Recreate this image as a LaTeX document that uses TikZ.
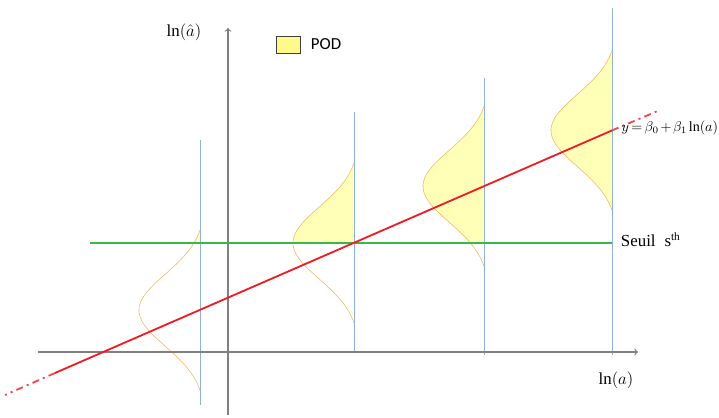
\documentclass[tikz,border=0pt]{standalone}
\usepackage{fontspec}
\setmainfont{Liberation Serif}
\newfontfamily\podfont{Carlito}
\definecolor{seuilgreen}{HTML}{3DB54A}
\definecolor{droitered}{HTML}{EE1C25}
\definecolor{courbeorange}{HTML}{F5B564}
\definecolor{podyellow}{HTML}{FFFFB8}
\definecolor{liblue}{HTML}{8FB0D8}
\definecolor{axegray}{HTML}{808080}
\begin{document}
\begin{tikzpicture}[x=1cm,y=1cm]
  \useasboundingbox (0,0) rectangle (17.975,10.45);
  % zones POD (au-dessus du seuil)
  \foreach \xc/\yc in {5/2.695,8.85/4.375,12.1/5.793,15.3/7.189}{
    \begin{scope}
      \clip (\xc-2,4.375) rectangle (\xc,10.45);
      \fill[podyellow,domain=-2:2,samples=80]
        plot ({\xc-1.525*(exp(-\x*\x/1.62)-0.0847)/0.9153},{\yc+\x}) -- cycle;
    \end{scope}
  }
  \draw[liblue] (5,0.325) -- (5,6.95);
  \draw[liblue] (8.85,1.65) -- (8.85,7.65);
  \draw[liblue] (12.1,1.575) -- (12.1,8.5);
  \draw[liblue] (15.3,1.575) -- (15.3,10.25);
  % densites
  \foreach \xc/\yc in {5/2.695,8.85/4.375,12.1/5.793,15.3/7.189}
    \draw[courbeorange,domain=-2:2,samples=80]
      plot ({\xc-1.525*(exp(-\x*\x/1.62)-0.0847)/0.9153},{\yc+\x});
  % axes
  \coordinate (xdeb) at (0.95,1.65);
  \coordinate (xfin) at (15.95,1.65);
  \coordinate (ydeb) at (5.7,0.075);
  \coordinate (yfin) at (5.7,9.75);
  \draw[axegray,line width=0.8pt,->] (xdeb) -- (xfin);
  \draw[axegray,line width=0.8pt,->] (ydeb) -- (yfin);
  \node[font=\large] (lna) at (15.4,0.95) {$\ln(a)$};
  \node[font=\large] (lnahat) at (4.6,9.65) {$\ln(\hat{a})$};
  % seuil
  \coordinate (sdeb) at (2.25,4.375);
  \coordinate (sfin) at (15.3,4.375);
  \draw[seuilgreen,line width=1.3pt] (sdeb) -- (sfin);
  \node[right,font=\large] (seuil) at (15.4,4.45) {Seuil\; s\textsuperscript{th}};
  % droite de regression
  \coordinate (rbas) at (0.125,0.575);
  \coordinate (rdeb) at (1.375,1.125);
  \coordinate (rfin) at (15.3,7.189);
  \coordinate (rhaut) at (16.5,7.7);
  \draw[droitered,line width=1.3pt] (rdeb) -- (rfin);
  \draw[droitered!80,line width=1.3pt,dash pattern=on 5pt off 3pt on 1.5pt off 3pt] (rdeb) -- (rbas);
  \draw[droitered!80,line width=1.3pt,dash pattern=on 5pt off 3pt on 1.5pt off 3pt] (rfin) -- (rhaut);
  \node[right,inner sep=1pt] (modele) at (15.5,7.25)
    {$y\mkern-2mu=\mkern-2mu\beta_0\mkern-2mu+\mkern-2mu\beta_1\mkern-1mu\ln(a)$};
  % legende
  \node[draw=black!75,fill=yellow!45,minimum width=0.6cm,minimum height=0.42cm,inner sep=0pt] (legende) at (7.2,9.34) {};
  \node[right,xshift=4pt,font=\podfont\large] (pod) at (legende.east) {POD};
\end{tikzpicture}
\end{document}
